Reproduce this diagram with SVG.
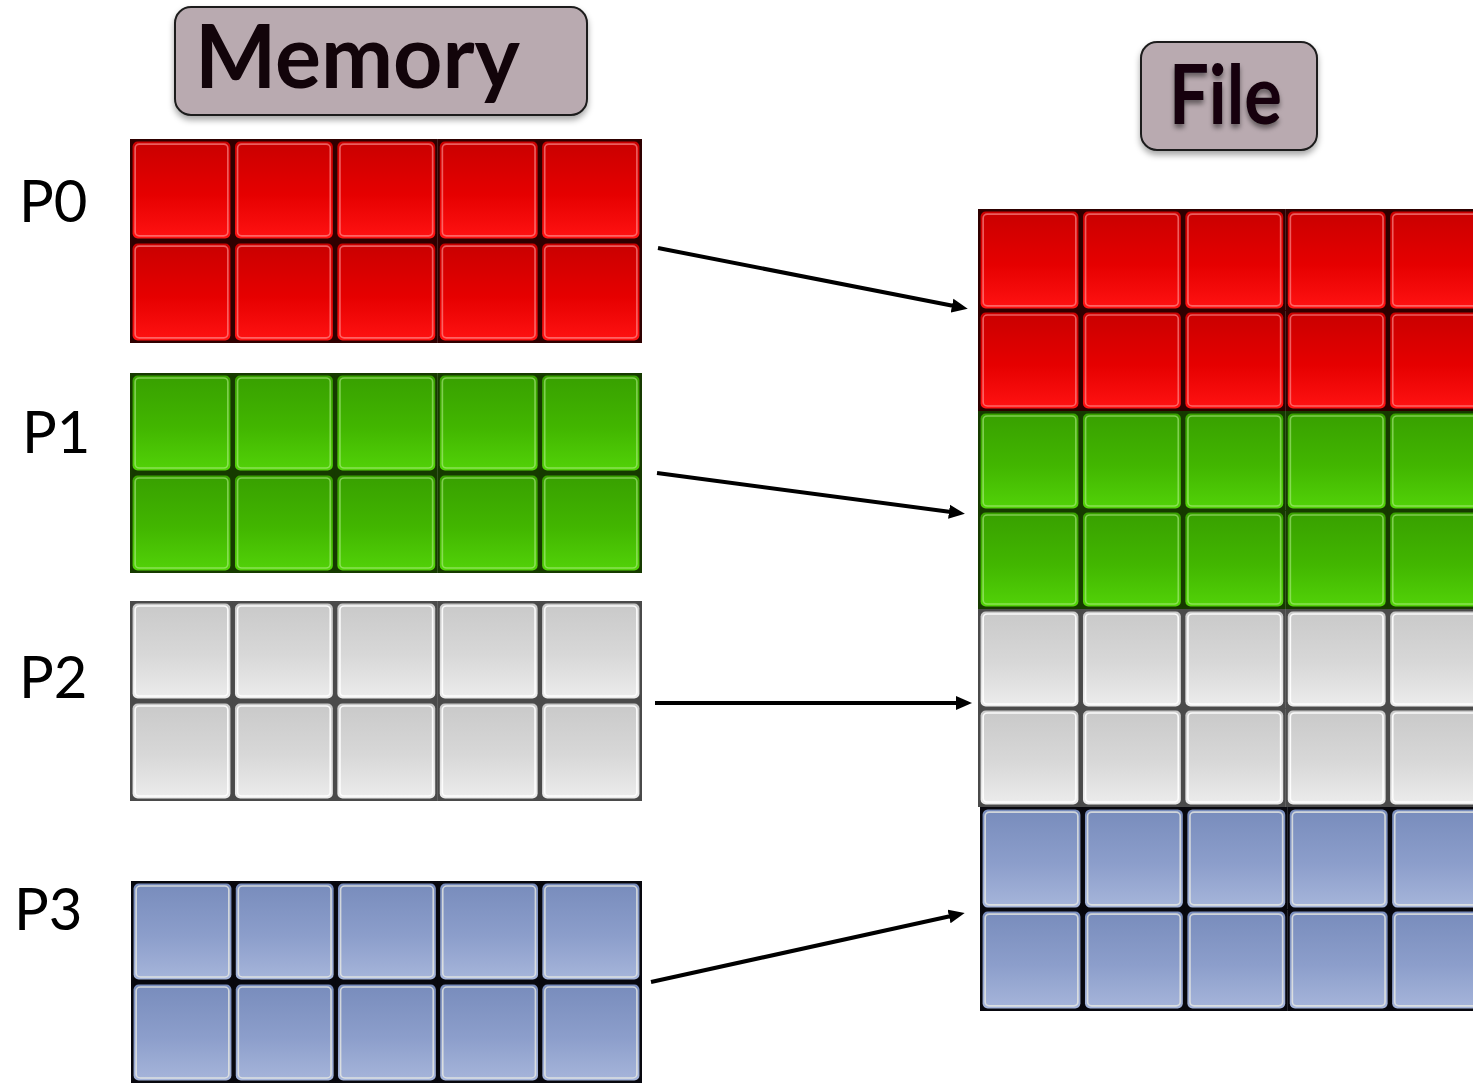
<svg xmlns="http://www.w3.org/2000/svg" width="1473" height="1083" viewBox="0 0 1473 1083">
<style>
.title{fill:#b9aab0;stroke:#1c1c1c;stroke-width:2}
.ttext{font-family:Lato,"Noto Sans","Liberation Sans",sans-serif;font-weight:700;fill:#12040a}
.plabel{font-family:Lato,"Noto Sans","Liberation Sans",sans-serif;font-size:58px;fill:#000}
.conn{stroke:#000;stroke-width:4;fill:none;marker-end:url(#ah)}
.hl{fill:none;stroke-width:1.6}
</style>
<defs>
<filter id="sh" x="-10%" y="-10%" width="120%" height="130%">
<feDropShadow dx="0" dy="4" stdDeviation="3" flood-color="#000" flood-opacity="0.35"/>
</filter>
<filter id="tsh" x="-10%" y="-10%" width="120%" height="130%">
<feDropShadow dx="0" dy="4" stdDeviation="2.5" flood-color="#000" flood-opacity="0.45"/>
</filter>
<marker id="ah" markerUnits="userSpaceOnUse" markerWidth="18" markerHeight="16" refX="2" refY="7" orient="auto" viewBox="0 0 18 14">
<path d="M0,0 L16,7 L0,14 z" fill="#000"/>
</marker>
<linearGradient id="gR" x1="0" y1="0" x2="0" y2="1"><stop offset="0" stop-color="#c90000"/><stop offset="0.55" stop-color="#e60000"/><stop offset="1" stop-color="#ff1212"/></linearGradient>
<linearGradient id="gG" x1="0" y1="0" x2="0" y2="1"><stop offset="0" stop-color="#38a000"/><stop offset="0.55" stop-color="#42b600"/><stop offset="1" stop-color="#52d208"/></linearGradient>
<linearGradient id="gW" x1="0" y1="0" x2="0" y2="1"><stop offset="0" stop-color="#c9c9c9"/><stop offset="0.55" stop-color="#d8d8d8"/><stop offset="1" stop-color="#ececec"/></linearGradient>
<linearGradient id="gB" x1="0" y1="0" x2="0" y2="1"><stop offset="0" stop-color="#788cbc"/><stop offset="0.55" stop-color="#8c9ecb"/><stop offset="1" stop-color="#a6b5da"/></linearGradient>
<symbol id="cR" viewBox="0 0 100 100" preserveAspectRatio="none">
<rect width="100" height="100" fill="#2e0000"/>
<rect x="2.5" y="2.5" width="95" height="95" rx="5" fill="url(#gR)"/>
<rect x="5" y="5" width="90" height="90" rx="4" class="hl" stroke="#ff9c9c" stroke-opacity="0.6"/>
</symbol>
<symbol id="cG" viewBox="0 0 100 100" preserveAspectRatio="none">
<rect width="100" height="100" fill="#163a00"/>
<rect x="2.5" y="2.5" width="95" height="95" rx="5" fill="url(#gG)"/>
<rect x="5" y="5" width="90" height="90" rx="4" class="hl" stroke="#b8f090" stroke-opacity="0.55"/>
</symbol>
<symbol id="cW" viewBox="0 0 100 100" preserveAspectRatio="none">
<rect width="100" height="100" fill="#4a4a4a"/>
<rect x="2.5" y="2.5" width="95" height="95" rx="5" fill="url(#gW)"/>
<rect x="5" y="5" width="90" height="90" rx="4" class="hl" stroke="#ffffff" stroke-opacity="0.9"/>
</symbol>
<symbol id="cB" viewBox="0 0 100 100" preserveAspectRatio="none">
<rect width="100" height="100" fill="#08080e"/>
<rect x="2.5" y="2.5" width="95" height="95" rx="5" fill="url(#gB)"/>
<rect x="5" y="5" width="90" height="90" rx="4" class="hl" stroke="#eeeee4" stroke-opacity="0.75"/>
</symbol>
</defs>
<rect width="1473" height="1083" fill="#fff"/>

<g id="title-memory">
<rect class="title" x="175" y="7" width="412" height="108" rx="16" filter="url(#sh)"/>
<text class="ttext" x="195" y="88" font-size="88" textLength="325" lengthAdjust="spacingAndGlyphs">Memory</text>
</g>
<g id="title-file">
<rect class="title" x="1141" y="42" width="176" height="108" rx="16" filter="url(#sh)"/>
<text class="ttext" x="1169" y="124" font-size="82" textLength="113" lengthAdjust="spacingAndGlyphs" filter="url(#tsh)">File</text>
</g>

<g id="label-p0"><text class="plabel" x="19" y="222">P0</text></g>
<g id="label-p1"><text class="plabel" x="22" y="453">P1</text></g>
<g id="label-p2"><text class="plabel" x="19" y="698">P2</text></g>
<g id="label-p3"><text class="plabel" x="14" y="930">P3</text></g>

<g id="mem-p0">
<use href="#cR" x="130" y="139" width="103" height="102"/><use href="#cR" x="232.4" y="139" width="103" height="102"/><use href="#cR" x="334.8" y="139" width="103" height="102"/><use href="#cR" x="437.2" y="139" width="103" height="102"/><use href="#cR" x="539.6" y="139" width="102.4" height="102"/>
<use href="#cR" x="130" y="241" width="103" height="102"/><use href="#cR" x="232.4" y="241" width="103" height="102"/><use href="#cR" x="334.8" y="241" width="103" height="102"/><use href="#cR" x="437.2" y="241" width="103" height="102"/><use href="#cR" x="539.6" y="241" width="102.4" height="102"/>
</g>
<g id="mem-p1">
<use href="#cG" x="130" y="373" width="103" height="100"/><use href="#cG" x="232.4" y="373" width="103" height="100"/><use href="#cG" x="334.8" y="373" width="103" height="100"/><use href="#cG" x="437.2" y="373" width="103" height="100"/><use href="#cG" x="539.6" y="373" width="102.4" height="100"/>
<use href="#cG" x="130" y="473" width="103" height="100"/><use href="#cG" x="232.4" y="473" width="103" height="100"/><use href="#cG" x="334.8" y="473" width="103" height="100"/><use href="#cG" x="437.2" y="473" width="103" height="100"/><use href="#cG" x="539.6" y="473" width="102.4" height="100"/>
</g>
<g id="mem-p2">
<use href="#cW" x="130" y="601" width="103" height="100"/><use href="#cW" x="232.4" y="601" width="103" height="100"/><use href="#cW" x="334.8" y="601" width="103" height="100"/><use href="#cW" x="437.2" y="601" width="103" height="100"/><use href="#cW" x="539.6" y="601" width="102.4" height="100"/>
<use href="#cW" x="130" y="701" width="103" height="100"/><use href="#cW" x="232.4" y="701" width="103" height="100"/><use href="#cW" x="334.8" y="701" width="103" height="100"/><use href="#cW" x="437.2" y="701" width="103" height="100"/><use href="#cW" x="539.6" y="701" width="102.4" height="100"/>
</g>
<g id="mem-p3">
<use href="#cB" x="131" y="881" width="103" height="101"/><use href="#cB" x="233.2" y="881" width="103" height="101"/><use href="#cB" x="335.4" y="881" width="103" height="101"/><use href="#cB" x="437.6" y="881" width="103" height="101"/><use href="#cB" x="539.8" y="881" width="102.2" height="101"/>
<use href="#cB" x="131" y="982" width="103" height="101"/><use href="#cB" x="233.2" y="982" width="103" height="101"/><use href="#cB" x="335.4" y="982" width="103" height="101"/><use href="#cB" x="437.6" y="982" width="103" height="101"/><use href="#cB" x="539.8" y="982" width="102.2" height="101"/>
</g>

<g id="file-p0">
<use href="#cR" x="978" y="209" width="103" height="102"/><use href="#cR" x="1080.4" y="209" width="103" height="102"/><use href="#cR" x="1182.8" y="209" width="103" height="102"/><use href="#cR" x="1285.2" y="209" width="103" height="102"/><use href="#cR" x="1387.6" y="209" width="103" height="102"/>
<use href="#cR" x="978" y="310" width="103" height="101"/><use href="#cR" x="1080.4" y="310" width="103" height="101"/><use href="#cR" x="1182.8" y="310" width="103" height="101"/><use href="#cR" x="1285.2" y="310" width="103" height="101"/><use href="#cR" x="1387.6" y="310" width="103" height="101"/>
</g>
<g id="file-p1">
<use href="#cG" x="978" y="411" width="103" height="100"/><use href="#cG" x="1080.4" y="411" width="103" height="100"/><use href="#cG" x="1182.8" y="411" width="103" height="100"/><use href="#cG" x="1285.2" y="411" width="103" height="100"/><use href="#cG" x="1387.6" y="411" width="103" height="100"/>
<use href="#cG" x="978" y="510" width="103" height="99"/><use href="#cG" x="1080.4" y="510" width="103" height="99"/><use href="#cG" x="1182.8" y="510" width="103" height="99"/><use href="#cG" x="1285.2" y="510" width="103" height="99"/><use href="#cG" x="1387.6" y="510" width="103" height="99"/>
</g>
<g id="file-p2">
<use href="#cW" x="978" y="609" width="103" height="100"/><use href="#cW" x="1080.4" y="609" width="103" height="100"/><use href="#cW" x="1182.8" y="609" width="103" height="100"/><use href="#cW" x="1285.2" y="609" width="103" height="100"/><use href="#cW" x="1387.6" y="609" width="103" height="100"/>
<use href="#cW" x="978" y="708" width="103" height="99"/><use href="#cW" x="1080.4" y="708" width="103" height="99"/><use href="#cW" x="1182.8" y="708" width="103" height="99"/><use href="#cW" x="1285.2" y="708" width="103" height="99"/><use href="#cW" x="1387.6" y="708" width="103" height="99"/>
</g>
<g id="file-p3">
<use href="#cB" x="980" y="807" width="103" height="103"/><use href="#cB" x="1082.4" y="807" width="103" height="103"/><use href="#cB" x="1184.8" y="807" width="103" height="103"/><use href="#cB" x="1287.2" y="807" width="103" height="103"/><use href="#cB" x="1389.6" y="807" width="103" height="103"/>
<use href="#cB" x="980" y="909" width="103" height="102"/><use href="#cB" x="1082.4" y="909" width="103" height="102"/><use href="#cB" x="1184.8" y="909" width="103" height="102"/><use href="#cB" x="1287.2" y="909" width="103" height="102"/><use href="#cB" x="1389.6" y="909" width="103" height="102"/>
</g>

<g id="connectors">
<line class="conn" x1="658" y1="248" x2="954" y2="306"/>
<line class="conn" x1="657" y1="473" x2="951" y2="512"/>
<line class="conn" x1="655" y1="703" x2="958" y2="703"/>
<line class="conn" x1="651" y1="982" x2="951" y2="916"/>
</g>
</svg>
